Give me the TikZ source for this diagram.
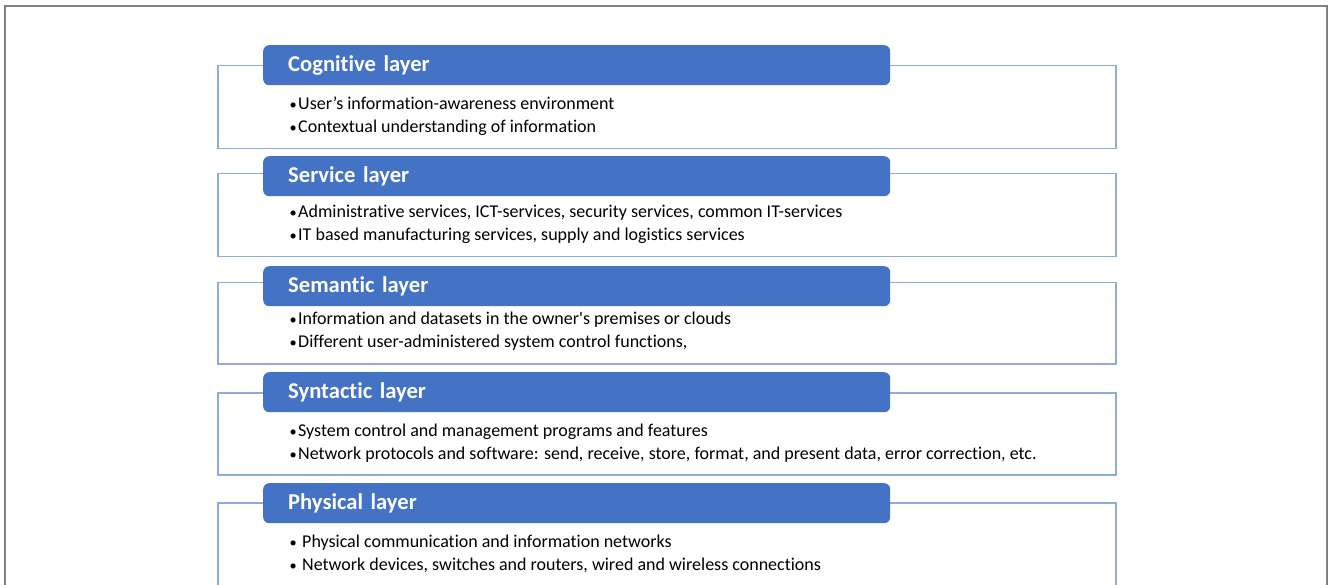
\documentclass[tikz,border=0pt]{standalone}
\usepackage{fontspec}
\usepackage{graphicx}
\newfontfamily\calfont[Ligatures=NoCommon]{Carlito}
\definecolor{hdrblue}{HTML}{4472C4}
\definecolor{boxblue}{HTML}{8FAADC}
\definecolor{framegrey}{HTML}{808080}
\tikzset{
  layerbox/.style={draw=boxblue, line width=1.5pt, minimum width=898pt, anchor=north west, inner sep=0pt},
  header/.style={fill=hdrblue, rounded corners=6pt, minimum width=627pt, minimum height=40pt,
     text width=577pt, inner xsep=25pt, inner ysep=0pt, align=left, anchor=north west,
     text height=13.5pt, text depth=0pt,
     text=white, font=\calfont\fontsize{22.6}{26}\selectfont\bfseries},
  bullets/.style={anchor=west, align=left, inner sep=0pt, text=black,
     font=\calfont\fontsize{18}{23}\selectfont},
  frame/.style={draw=framegrey, line width=1.4pt}
}
\newcommand{\bul}[1]{\makebox[9pt][l]{\hspace{0.5pt}\scalebox{0.8}{\textbullet}}#1}
\newcommand{\bulw}[1]{\makebox[13pt][l]{\hspace{0.5pt}\scalebox{0.8}{\textbullet}}#1}
\begin{document}
\begin{tikzpicture}[x=1pt,y=-1pt]
\useasboundingbox (0,0) rectangle (1328,585);
\coordinate (fbl) at (5,586);
\coordinate (fbr) at (1327,586);
\coordinate (ftr) at (1327,6);
\draw[frame] (fbl) |- (ftr) -- (fbr);
% Cognitive
\node[layerbox, minimum height=83pt] (b1) at (217,65) {};
\node[header] (h1) at (263,45) {Cognitive layer};
\node[bullets] (t1) at (289,116.5) {\bul{User’s information-awareness environment}\\\bul{Contextual understanding of information}};
% Service
\node[layerbox, minimum height=83pt] (b2) at (217,173) {};
\node[header] (h2) at (263,156) {Service layer};
\node[bullets] (t2) at (289,224.5) {\bul{Administrative services, ICT-services, security services, common IT-services}\\\bul{IT based manufacturing services, supply and logistics services}};
% Semantic
\node[layerbox, minimum height=81pt] (b3) at (217,282) {};
\node[header] (h3) at (263,266) {Semantic layer};
\node[bullets] (t3) at (289,331.5) {\bul{Information and datasets in the owner's premises or clouds}\\\bul{Different user-administered system control functions,}};
% Syntactic
\node[layerbox, minimum height=82pt] (b4) at (217,392) {};
\node[header] (h4) at (263,372) {Syntactic layer};
\node[bullets] (t4) at (289,443.5) {\bul{System control and management programs and features}\\\bul{Network protocols and software: send, receive, store, format, and present data, error correction, etc.}};
% Physical
\node[layerbox, minimum height=83pt] (b5) at (217,502) {};
\node[header] (h5) at (263,483) {Physical layer};
\node[bullets] (t5) at (289,553.5) {\bulw{Physical communication and information networks}\\\bulw{Network devices, switches and routers, wired and wireless connections}};
\end{tikzpicture}
\end{document}
